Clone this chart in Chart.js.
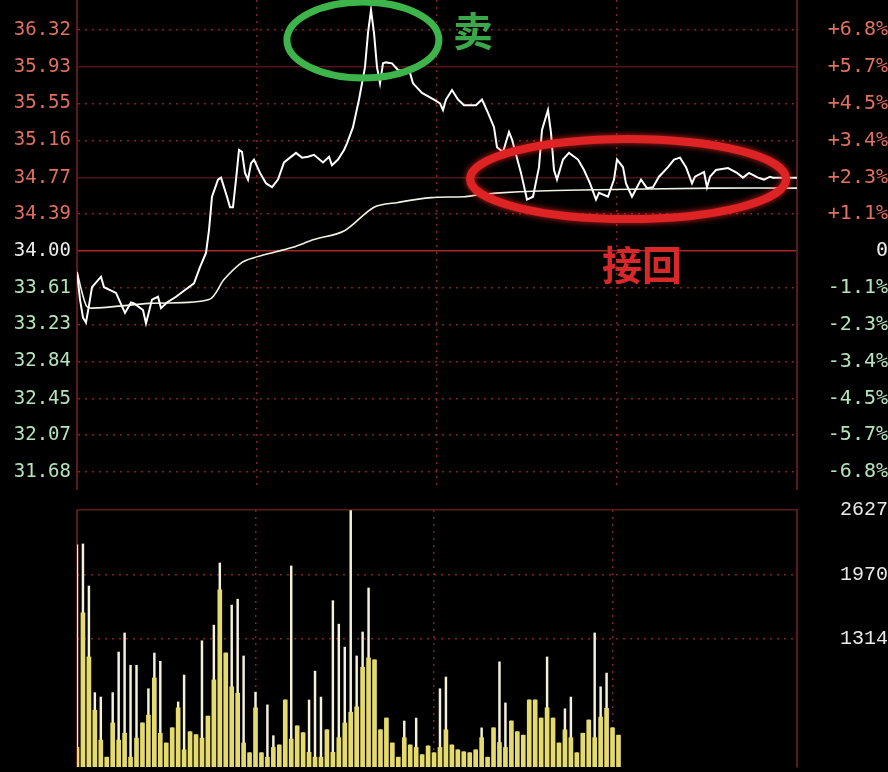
<!DOCTYPE html>
<html lang="zh">
<head>
<meta charset="UTF-8">
<title>分时图</title>
<style>
  html, body { margin: 0; padding: 0; background: #000; }
  #wrap { position: relative; width: 888px; height: 772px; overflow: hidden; background: #000; }
  #priceChart { position: absolute; left: 0; top: 0; }
  #volChart { position: absolute; left: 0; top: 490px; }
</style>
</head>
<body>
<div id="wrap">
  <canvas id="priceChart" width="888" height="490"></canvas>
  <canvas id="volChart" width="888" height="282"></canvas>
</div>
<script src="https://cdn.jsdelivr.net/npm/chart.js"></script>
<script>
// price line (minute of session, price)
const priceMinutes = [0,1,2,3,4,5,8,9,13,16,18,19,22,23,25,27,28,30,33,36,39,41,43,44,45,47,48,50,51,52,53,54,55,56,57,58,59,61,63,65,67,69,73,75,77,79,82,84,85,87,89,90,92,94,95,96,97,98,99,100,101,102,103,105,107,111,112,115,119,121,122,123,125,127,129,133,135,137,139,140,142,144,145,148,150,152,154,155,157,158,159,160,162,164,167,169,171,173,174,177,179,180,182,183,185,188,190,192,194,197,199,201,203,205,206,209,210,211,213,217,220,222,224,227,229,231,232,240];
const priceValues = [33.78,33.49,33.30,33.25,33.43,33.62,33.73,33.62,33.56,33.35,33.46,33.45,33.38,33.24,33.49,33.52,33.40,33.46,33.52,33.59,33.66,33.83,33.98,34.22,34.57,34.75,34.77,34.57,34.46,34.46,34.75,35.06,35.04,34.82,34.75,34.92,34.96,34.82,34.71,34.67,34.75,34.93,35.03,34.98,34.99,35.01,34.93,34.99,34.90,34.96,35.06,35.13,35.30,35.59,35.76,35.93,36.29,36.53,36.29,35.93,35.76,35.97,35.98,35.97,35.90,35.87,35.76,35.66,35.59,35.55,35.48,35.59,35.69,35.59,35.53,35.53,35.59,35.45,35.30,35.09,35.04,35.25,35.17,34.82,34.54,34.57,34.88,35.27,35.48,35.24,34.85,34.75,34.96,35.03,34.96,34.85,34.71,34.54,34.61,34.57,34.75,34.96,34.88,34.71,34.57,34.75,34.66,34.67,34.78,34.88,34.96,34.98,34.88,34.71,34.78,34.83,34.67,34.78,34.85,34.87,34.82,34.77,34.82,34.77,34.75,34.78,34.77,34.77];

// average price line
const avgMinutes = [0,3,5,24,44,49,55,59,66,72,79,89,99,107,118,129,134,141,154,168,212,240];
const avgValues = [33.78,33.43,33.40,33.45,33.49,33.70,33.88,33.93,33.99,34.04,34.12,34.21,34.46,34.51,34.56,34.57,34.59,34.61,34.63,34.64,34.66,34.66];

// axis labels
const priceTicks = [36.32,35.93,35.55,35.16,34.77,34.39,34.00,33.61,33.23,32.84,32.45,32.07,31.68];
const pctLabels = ['+6.8%','+5.7%','+4.5%','+3.4%','+2.3%','+1.1%','0','-1.1%','-2.3%','-3.4%','-4.5%','-5.7%','-6.8%'];
const timeGrid = [60,120,180];
const volTicks = [1314,1970,2627];
const volGrid = [0,30,60,90];

// volume bars: tall pale spikes and the yellow body of each bar
const volPeak = [2270,2280,1850,760,715,100,760,1175,1370,1040,1040,450,800,1165,1080,245,400,665,940,360,330,1290,520,1450,2085,1165,1655,1715,1135,145,765,145,635,320,225,685,2055,420,350,685,980,715,380,
  1700,1460,1225,2620,1135,1380,1830,1095,380,500,245,100,470,225,500,125,215,145,800,920,225,175,155,145,175,400,100,400,1075,655,470,360,325,685,685,500,1125,500,245,595,715,145,345,480,1370,820,960,400,325];
const volBody = [200,1575,1125,580,275,100,450,275,345,100,295,450,530,910,345,245,400,605,175,360,330,295,520,890,1810,1165,820,755,245,145,605,145,100,200,225,685,285,420,350,150,100,100,380,
  150,300,450,560,615,1020,1115,1095,380,500,245,100,300,225,200,125,215,145,200,380,225,175,155,145,175,300,100,400,250,200,470,360,325,685,685,500,605,500,245,380,300,145,345,480,300,510,600,400,325];

const RED = '#e0705f', WHITE = '#ececec', GREEN = '#b4e4bc';
const GRID = 'rgba(150,40,40,0.85)';

Chart.defaults.font.family = "'DejaVu Sans Mono', monospace";

function labelColor(i) {
  if (i < 6) return RED;
  if (i === 6) return WHITE;
  return GREEN;
}

// circled notes drawn over the lines
const notesPlugin = {
  id: 'notes',
  afterDatasetsDraw(chart) {
    const { ctx, scales: { x, y } } = chart;
    ctx.save();
    // green ring at the high
    ctx.beginPath();
    ctx.ellipse(x.getPixelForValue(95.3), y.getPixelForValue(36.215), 76, 38, 0, 0, Math.PI * 2);
    ctx.lineWidth = 7;
    ctx.strokeStyle = '#3db54a';
    ctx.stroke();
    // red ring on the pull-back
    ctx.beginPath();
    ctx.ellipse(x.getPixelForValue(183.7), y.getPixelForValue(34.756), 158, 40, 0, 0, Math.PI * 2);
    ctx.shadowColor = 'rgba(255,40,40,0.8)';
    ctx.shadowBlur = 6;
    ctx.lineWidth = 8;
    ctx.strokeStyle = '#dd2323';
    ctx.stroke();
    ctx.shadowBlur = 0;
    ctx.textAlign = 'center';
    ctx.textBaseline = 'middle';
    ctx.font = "bold 40px 'Noto Sans CJK SC'";
    ctx.fillStyle = '#3aa84a';
    ctx.fillText('卖', x.getPixelForValue(132), y.getPixelForValue(36.31));
    ctx.fillStyle = '#d9282a';
    ctx.fillText('接回', x.getPixelForValue(188.3), y.getPixelForValue(33.853));
    ctx.restore();
  }
};

new Chart(document.getElementById('priceChart'), {
  type: 'line',
  data: {
    datasets: [
      {
        label: '价格',
        data: priceMinutes.map((m, i) => ({ x: m, y: priceValues[i] })),
        borderColor: '#ffffff',
        borderWidth: 2,
        pointRadius: 0,
        tension: 0
      },
      {
        label: '均价',
        data: avgMinutes.map((m, i) => ({ x: m, y: avgValues[i] })),
        borderColor: '#f2f2e2',
        borderWidth: 1.6,
        pointRadius: 0,
        tension: 0.3
      }
    ]
  },
  options: {
    responsive: false,
    animation: false,
    layout: { padding: 0 },
    plugins: { legend: { display: false }, tooltip: { enabled: false } },
    scales: {
      x: {
        type: 'linear', min: 0, max: 240,
        afterBuildTicks: s => { s.ticks = timeGrid.map(v => ({ value: v })); },
        afterFit: s => { s.height = 0; },
        ticks: { display: false },
        grid: { color: GRID, lineWidth: 1.5, drawTicks: false },
        border: { display: false, dash: [2, 5] }
      },
      y: {
        position: 'left', min: 31.491, max: 36.635,
        afterBuildTicks: s => { s.ticks = priceTicks.map(v => ({ value: v })); },
        afterFit: s => { s.width = 77; s.paddingTop = 0; s.paddingBottom = 0; },
        ticks: {
          padding: 6,
          font: { size: 19 },
          color: c => labelColor(c.index),
          callback: (v, i) => priceTicks[i].toFixed(2)
        },
        grid: {
          drawTicks: false,
          lineWidth: 1.5,
          color: c => {
            if (c.index === 6) return '#a82828';
            if (c.index === 1 || c.index === 4) return '#4e1616';
            return GRID;
          }
        },
        border: {
          color: '#5e1a1a', width: 2,
          dash: c => (c.index === 6 || c.index === 1 || c.index === 4 ? [] : [2, 5])
        }
      },
      y2: {
        position: 'right', min: 31.491, max: 36.635,
        afterBuildTicks: s => { s.ticks = priceTicks.map(v => ({ value: v })); },
        afterFit: s => { s.width = 91; s.paddingTop = 0; s.paddingBottom = 0; },
        ticks: {
          padding: 23,
          crossAlign: 'far',
          font: { size: 20 },
          color: c => labelColor(c.index),
          callback: (v, i) => pctLabels[i]
        },
        grid: { display: false, drawTicks: false },
        border: { color: '#5e1a1a', width: 2 }
      }
    }
  },
  plugins: [notesPlugin]
});

new Chart(document.getElementById('volChart'), {
  type: 'bar',
  data: {
    datasets: [
      {
        label: '量峰',
        data: volPeak.map((v, i) => ({ x: i, y: v })),
        backgroundColor: '#f6f2da',
        barThickness: 1.8,
        grouped: false,
        order: 2
      },
      {
        label: '成交量',
        data: volBody.map((v, i) => ({ x: i, y: v })),
        backgroundColor: '#e4da6e',
        barThickness: 4,
        grouped: false,
        order: 1
      }
    ]
  },
  options: {
    responsive: false,
    animation: false,
    layout: { padding: { left: 77, top: 20, bottom: 5, right: 0 } },
    plugins: { legend: { display: false }, tooltip: { enabled: false } },
    scales: {
      x: {
        type: 'linear', min: 0, max: 121, offset: false,
        afterBuildTicks: s => { s.ticks = volGrid.map(v => ({ value: v })); },
        afterFit: s => { s.height = 0; },
        ticks: { display: false },
        grid: {
          offset: false,
          drawTicks: false, lineWidth: c => (c.index === 0 ? 2 : 1.5),
          color: c => (c.index === 0 ? '#5e1a1a' : GRID)
        },
        border: { display: false, dash: c => (c.index === 0 ? [] : [2, 5]) }
      },
      y: {
        position: 'right', min: 0, max: 2627,
        afterBuildTicks: s => { s.ticks = volTicks.map(v => ({ value: v })); },
        afterFit: s => { s.width = 91; s.paddingTop = 0; s.paddingBottom = 0; },
        ticks: {
          padding: 33,
          crossAlign: 'far',
          font: { family: "'Liberation Mono', monospace", size: 20 },
          color: '#e8e8e8',
          callback: (v, i) => String(volTicks[i])
        },
        grid: {
          drawTicks: false, lineWidth: 1.5,
          color: c => (c.index === 2 ? '#5e1a1a' : GRID)
        },
        border: { color: '#5e1a1a', width: 2, dash: c => (c.index === 2 ? [] : [2, 5]) }
      }
    }
  }
});
</script>
</body>
</html>
